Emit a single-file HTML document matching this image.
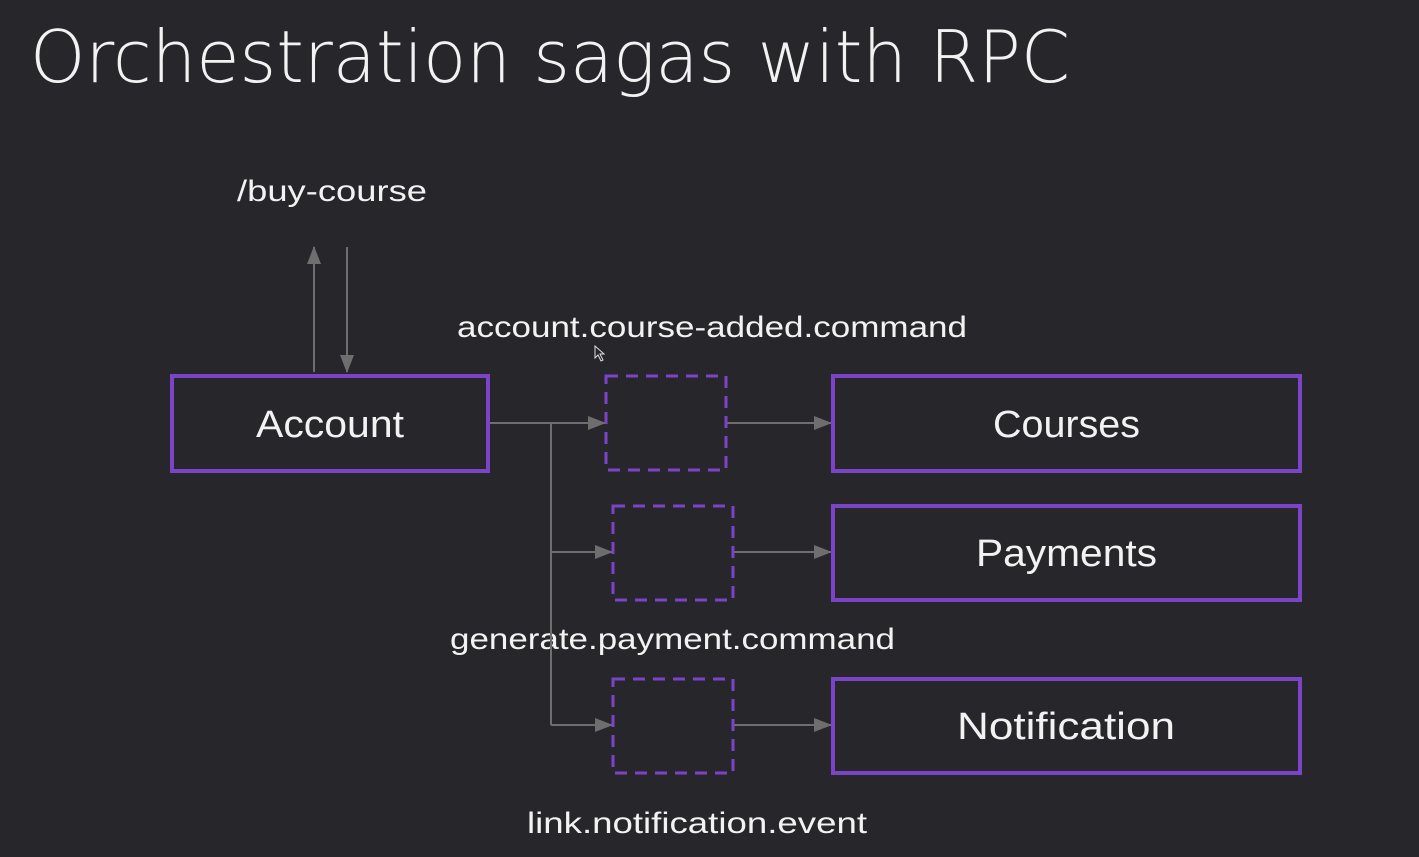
<!DOCTYPE html>
<html><head><meta charset="utf-8"><style>
html,body{margin:0;padding:0;background:#27262b;}
svg{display:block}
text{font-family:"Liberation Sans","DejaVu Sans",sans-serif;fill:#f2f2f2}
.t{font-family:"DejaVu Sans","Liberation Sans",sans-serif;font-weight:200}
</style></head><body>
<svg width="1419" height="857" viewBox="0 0 1419 857" xmlns="http://www.w3.org/2000/svg">
<defs>
<marker id="b" markerWidth="18" markerHeight="14" refX="17" refY="7" orient="auto" markerUnits="userSpaceOnUse" viewBox="0 0 18 14">
<path d="M0,0 L18,7 L0,14 z" fill="#6e6e6e"/></marker>
</defs>
<rect width="1419" height="857" fill="#27262b"/>
<text class="t" x="30" y="82" font-size="72" textLength="1040" lengthAdjust="spacingAndGlyphs">Orchestration sagas with RPC</text>
<text x="237" y="201" font-size="30" textLength="190" lengthAdjust="spacingAndGlyphs">/buy-course</text>
<text x="457" y="337" font-size="30" textLength="510" lengthAdjust="spacingAndGlyphs">account.course-added.command</text>
<text x="450" y="649" font-size="30" textLength="445" lengthAdjust="spacingAndGlyphs">generate.payment.command</text>
<text x="527" y="833" font-size="30" textLength="340" lengthAdjust="spacingAndGlyphs">link.notification.event</text>
<g stroke="#6e6e6e" stroke-width="2" fill="none">
<line x1="314" y1="372" x2="314" y2="247" marker-end="url(#b)"/>
<line x1="347" y1="247" x2="347" y2="372" marker-end="url(#b)"/>
<line x1="489" y1="423" x2="605" y2="423" marker-end="url(#b)"/>
<line x1="551" y1="423" x2="551" y2="725"/>
<line x1="551" y1="552" x2="612" y2="552" marker-end="url(#b)"/>
<line x1="551" y1="725" x2="612" y2="725" marker-end="url(#b)"/>
<line x1="727" y1="423" x2="831" y2="423" marker-end="url(#b)"/>
<line x1="734" y1="552" x2="831" y2="552" marker-end="url(#b)"/>
<line x1="734" y1="725" x2="831" y2="725" marker-end="url(#b)"/>
</g>
<g fill="none" stroke="#7b44c8" stroke-width="4">
<rect x="172" y="376" width="316" height="95"/>
<rect x="833" y="376" width="467" height="95"/>
<rect x="833" y="506" width="467" height="94"/>
<rect x="833" y="679" width="467" height="94"/>
<g stroke-dasharray="12,8" stroke-width="3">
<rect x="606" y="376" width="120" height="94"/>
<rect x="613" y="506" width="120" height="94"/>
<rect x="613" y="679" width="120" height="94"/>
</g>
</g>
<g font-size="38">
<text x="256" y="437" textLength="148" lengthAdjust="spacingAndGlyphs">Account</text>
<text x="993" y="437" textLength="147" lengthAdjust="spacingAndGlyphs">Courses</text>
<text x="976" y="566" textLength="181" lengthAdjust="spacingAndGlyphs">Payments</text>
<text x="957" y="739" textLength="218" lengthAdjust="spacingAndGlyphs">Notification</text>
</g>
<path d="M595,346 l0,12 l3,-3 l3,6 l2,-1 l-3,-6 l4,0 z" fill="#27262b" stroke="#ddd" stroke-width="1"/>
</svg>
</body></html>
